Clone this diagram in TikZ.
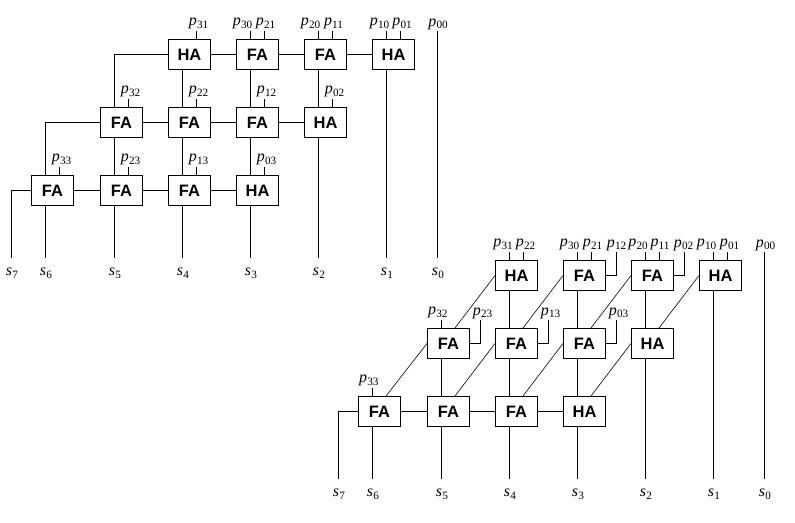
\documentclass[tikz,border=0pt]{standalone}
\usepackage{fontspec}
\setmainfont{Liberation Serif}
\setsansfont{Liberation Sans}
\newcommand\sub[2]{\textit{#1}\kern0.2pt\raisebox{-2.6pt}{\fontsize{11.2}{11.2}\selectfont #2}}
\tikzset{
  wire/.style={line width=1pt},
  thinwire/.style={line width=0.6pt},
  adder/.style={draw, line width=1pt, minimum width=42pt, minimum height=30pt,
    inner sep=0pt, font=\fontsize{16.5}{16.5}\selectfont\sffamily\bfseries},
  plab/.style={anchor=south, inner sep=1pt, font=\fontsize{16}{16}\selectfont},
  slab/.style={anchor=north, inner sep=0pt, font=\fontsize{16}{16}\selectfont}
}
% top input tick: box, name suffix, x offset, label dx, label
\newcommand\inp[5]{%
  \coordinate (#1#2) at ([xshift=#3pt,yshift=8.5pt]#1.north);
  \draw[wire] ([xshift=#3pt]#1.north) -- (#1#2);
  \node[plab] (#1#2lab) at ([xshift=#4pt]#1#2) {#5};}
% side input: box, label dx, label
\newcommand\sideinp[3]{%
  \coordinate (#1S) at ([xshift=10pt,yshift=23.5pt]#1.east);
  \draw[wire] (#1.east) -| (#1S);
  \node[plab] (#1Slab) at ([xshift=#2pt]#1S) {#3};}
% output line end and label: name, x, label
\newcommand\outp[3]{%
  \coordinate (#1) at (#2,258.3);
  \node[slab] (#1lab) at ([xshift=0.5pt,yshift=-9.5pt]#1) {#3};}
\begin{document}
\begin{tikzpicture}[x=1pt,y=-1pt]
\useasboundingbox (0,0) rectangle (795,522);
% ================= Diagram 1 (ripple) =================
\node[adder] (a02) at (189.5,54.5) {HA};
\node[adder] (a03) at (257.5,54.5) {FA};
\node[adder] (a04) at (325.5,54.5) {FA};
\node[adder] (a05) at (393.5,54.5) {HA};
\node[adder] (a11) at (121.5,122.5) {FA};
\node[adder] (a12) at (189.5,122.5) {FA};
\node[adder] (a13) at (257.5,122.5) {FA};
\node[adder] (a14) at (325.5,122.5) {HA};
\node[adder] (a20) at (52.5,190.5) {FA};
\node[adder] (a21) at (121.5,190.5) {FA};
\node[adder] (a22) at (189.5,190.5) {FA};
\node[adder] (a23) at (257.5,190.5) {HA};
% inputs
\inp{a02}{R}{7}{2}{\sub{p}{31}}
\inp{a03}{L}{-7}{-8}{\sub{p}{30}}
\inp{a03}{R}{7}{1}{\sub{p}{21}}
\inp{a04}{L}{-7}{-8}{\sub{p}{20}}
\inp{a04}{R}{7}{1}{\sub{p}{11}}
\inp{a05}{L}{-7}{-7}{\sub{p}{10}}
\inp{a05}{R}{7}{1.5}{\sub{p}{01}}
\inp{a11}{R}{7}{2}{\sub{p}{32}}
\inp{a12}{R}{7}{2}{\sub{p}{22}}
\inp{a13}{R}{7}{2}{\sub{p}{12}}
\inp{a14}{R}{7}{2}{\sub{p}{02}}
\inp{a20}{R}{7}{2}{\sub{p}{33}}
\inp{a21}{R}{7}{2}{\sub{p}{23}}
\inp{a22}{R}{7}{2}{\sub{p}{13}}
\inp{a23}{R}{7}{2}{\sub{p}{03}}
\coordinate (ap00) at (437.5,31);
\node[plab] (ap00lab) at ([xshift=0.5pt]ap00) {\sub{p}{00}};
% carries (horizontal)
\draw[wire] (a03.west) -- (a02.east);
\draw[wire] (a04.west) -- (a03.east);
\draw[wire] (a05.west) -- (a04.east);
\draw[wire] (a12.west) -- (a11.east);
\draw[wire] (a13.west) -- (a12.east);
\draw[wire] (a14.west) -- (a13.east);
\draw[wire] (a21.west) -- (a20.east);
\draw[wire] (a22.west) -- (a21.east);
\draw[wire] (a23.west) -- (a22.east);
\draw[wire] (a02.west) -| ([xshift=-7pt]a11.north);
\draw[wire] (a11.west) -| ([xshift=-7pt]a20.north);
% sums (vertical)
\draw[wire] ([xshift=-7pt]a02.south) -- ([xshift=-7pt]a12.north);
\draw[wire] ([xshift=-7pt]a03.south) -- ([xshift=-7pt]a13.north);
\draw[wire] ([xshift=-7pt]a04.south) -- ([xshift=-7pt]a14.north);
\draw[wire] ([xshift=-7pt]a11.south) -- ([xshift=-7pt]a21.north);
\draw[wire] ([xshift=-7pt]a12.south) -- ([xshift=-7pt]a22.north);
\draw[wire] ([xshift=-7pt]a13.south) -- ([xshift=-7pt]a23.north);
% outputs
\outp{as7}{11.5}{\sub{s}{7}}
\outp{as6}{45.5}{\sub{s}{6}}
\outp{as5}{114.5}{\sub{s}{5}}
\outp{as4}{182.5}{\sub{s}{4}}
\outp{as3}{250.5}{\sub{s}{3}}
\outp{as2}{318.5}{\sub{s}{2}}
\outp{as1}{386.5}{\sub{s}{1}}
\outp{as0}{437.5}{\sub{s}{0}}
\draw[wire] (a20.west) -| (as7);
\draw[wire] ([xshift=-7pt]a20.south) -- (as6);
\draw[wire] ([xshift=-7pt]a21.south) -- (as5);
\draw[wire] ([xshift=-7pt]a22.south) -- (as4);
\draw[wire] ([xshift=-7pt]a23.south) -- (as3);
\draw[wire] ([xshift=-7pt]a14.south) -- (as2);
\draw[wire] ([xshift=-7pt]a05.south) -- (as1);
\draw[wire] (ap00) -- (as0);
% ================= Diagram 2 (carry-save) =================
\begin{scope}[shift={(327,221)}]
\node[adder] (b02) at (189.5,54.5) {HA};
\node[adder] (b03) at (257.5,54.5) {FA};
\node[adder] (b04) at (325.5,54.5) {FA};
\node[adder] (b05) at (393.5,54.5) {HA};
\node[adder] (b11) at (121.5,122.5) {FA};
\node[adder] (b12) at (189.5,122.5) {FA};
\node[adder] (b13) at (257.5,122.5) {FA};
\node[adder] (b14) at (325.5,122.5) {HA};
\node[adder] (b20) at (52.5,190.5) {FA};
\node[adder] (b21) at (121.5,190.5) {FA};
\node[adder] (b22) at (189.5,190.5) {FA};
\node[adder] (b23) at (257.5,190.5) {HA};
% inputs
\inp{b02}{L}{-7}{-6.5}{\sub{p}{31}}
\inp{b02}{R}{7}{2}{\sub{p}{22}}
\inp{b03}{L}{-7}{-8}{\sub{p}{30}}
\inp{b03}{R}{7}{1}{\sub{p}{21}}
\sideinp{b03}{0.5}{\sub{p}{12}}
\inp{b04}{L}{-7}{-7.5}{\sub{p}{20}}
\inp{b04}{R}{7}{0.5}{\sub{p}{11}}
\sideinp{b04}{-0.5}{\sub{p}{02}}
\inp{b05}{L}{-7}{-7}{\sub{p}{10}}
\inp{b05}{R}{7}{2}{\sub{p}{01}}
\inp{b11}{L}{-7}{-3.7}{\sub{p}{32}}
\sideinp{b11}{2.5}{\sub{p}{23}}
\sideinp{b12}{2.5}{\sub{p}{13}}
\sideinp{b13}{2.5}{\sub{p}{03}}
\inp{b20}{L}{-7}{-3.7}{\sub{p}{33}}
\coordinate (bp00) at (437.5,31);
\node[plab] (bp00lab) at ([xshift=1pt]bp00) {\sub{p}{00}};
% carries (diagonal)
\draw[thinwire] (b02.west) -- ([xshift=6.5pt]b11.north);
\draw[thinwire] (b03.west) -- ([xshift=6.5pt]b12.north);
\draw[thinwire] (b04.west) -- ([xshift=6.5pt]b13.north);
\draw[thinwire] (b05.west) -- ([xshift=6.5pt]b14.north);
\draw[thinwire] (b11.west) -- ([xshift=6.5pt]b20.north);
\draw[thinwire] (b12.west) -- ([xshift=6.5pt]b21.north);
\draw[thinwire] (b13.west) -- ([xshift=6.5pt]b22.north);
\draw[thinwire] (b14.west) -- ([xshift=6.5pt]b23.north);
% last row ripple
\draw[wire] (b21.west) -- (b20.east);
\draw[wire] (b22.west) -- (b21.east);
\draw[wire] (b23.west) -- (b22.east);
% sums (vertical)
\draw[wire] ([xshift=-7pt]b02.south) -- ([xshift=-7pt]b12.north);
\draw[wire] ([xshift=-7pt]b03.south) -- ([xshift=-7pt]b13.north);
\draw[wire] ([xshift=-7pt]b04.south) -- ([xshift=-7pt]b14.north);
\draw[wire] ([xshift=-7pt]b11.south) -- ([xshift=-7pt]b21.north);
\draw[wire] ([xshift=-7pt]b12.south) -- ([xshift=-7pt]b22.north);
\draw[wire] ([xshift=-7pt]b13.south) -- ([xshift=-7pt]b23.north);
% outputs
\outp{bs7}{11.5}{\sub{s}{7}}
\outp{bs6}{45.5}{\sub{s}{6}}
\outp{bs5}{114.5}{\sub{s}{5}}
\outp{bs4}{182.5}{\sub{s}{4}}
\outp{bs3}{250.5}{\sub{s}{3}}
\outp{bs2}{318.5}{\sub{s}{2}}
\outp{bs1}{386.5}{\sub{s}{1}}
\outp{bs0}{437.5}{\sub{s}{0}}
\draw[wire] (b20.west) -| (bs7);
\draw[wire] ([xshift=-7pt]b20.south) -- (bs6);
\draw[wire] ([xshift=-7pt]b21.south) -- (bs5);
\draw[wire] ([xshift=-7pt]b22.south) -- (bs4);
\draw[wire] ([xshift=-7pt]b23.south) -- (bs3);
\draw[wire] ([xshift=-7pt]b14.south) -- (bs2);
\draw[wire] ([xshift=-7pt]b05.south) -- (bs1);
\draw[wire] (bp00) -- (bs0);
\end{scope}
\end{tikzpicture}
\end{document}
